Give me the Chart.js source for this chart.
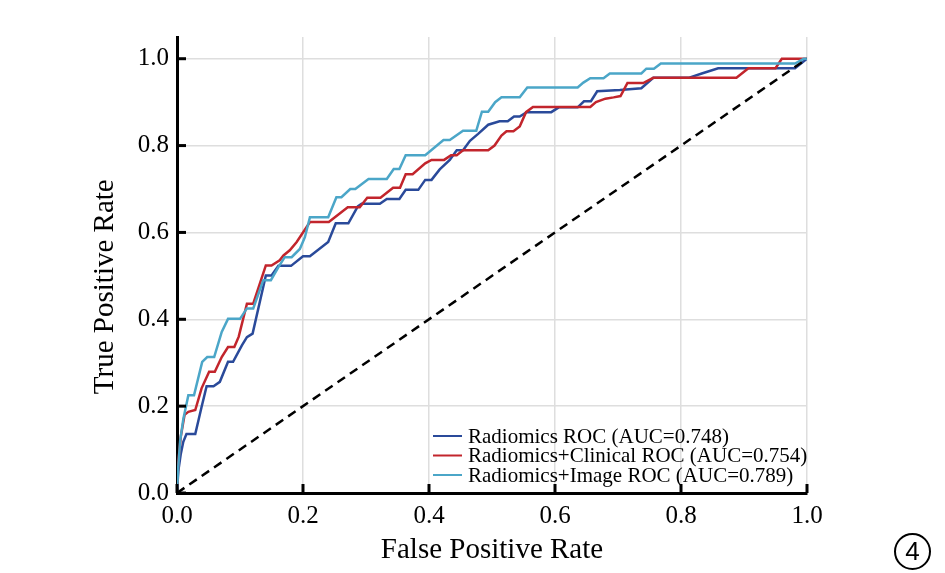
<!DOCTYPE html>
<html lang="en">
<head>
<meta charset="UTF-8">
<title>ROC curves</title>
<script src="https://cdn.jsdelivr.net/npm/chart.js@4.4.0/dist/chart.umd.min.js"></script>
<style>
    html, body { margin: 0; padding: 0; background: #fff; }
    #wrap { position: relative; width: 945px; height: 573px; }
    #badge {
        position: absolute; left: 894px; top: 533px;
        width: 33px; height: 33px; border: 2px solid #000; border-radius: 50%;
        font-family: 'Liberation Sans', Arial, sans-serif; font-size: 26px;
        line-height: 33px; text-align: center; color: #000;
    }
</style>
</head>
<body>
<div id="wrap">
    <canvas id="roc" width="945" height="573"></canvas>
    <div id="badge">4</div>
</div>
<script>
    // ticks
    const xTicks = [0, 0.2, 0.4, 0.6, 0.8, 1.0];
    const yTicks = [0, 0.2, 0.4, 0.6, 0.8, 1.0];
    const yTitle = 'True Positive Rate';

    // Radiomics ROC (AUC=0.748)
    const radFpr = [0, 0.002, 0.006, 0.010, 0.015, 0.029, 0.039, 0.047, 0.058, 0.068, 0.081, 0.089, 0.103, 0.111, 0.120,
        0.141, 0.150, 0.161, 0.181, 0.200, 0.211, 0.240, 0.252, 0.272, 0.287, 0.293, 0.322, 0.333, 0.353, 0.363, 0.383,
        0.394, 0.404, 0.417, 0.433, 0.444, 0.454, 0.465, 0.478, 0.494, 0.512, 0.525, 0.535, 0.544, 0.555, 0.594, 0.606,
        0.636, 0.646, 0.657, 0.667, 0.703, 0.737, 0.756, 0.812, 0.833, 0.859, 0.981, 1.0];
    const radTpr = [0, 0.05, 0.09, 0.118, 0.136, 0.136, 0.198, 0.246, 0.246, 0.256, 0.302, 0.302, 0.340, 0.359, 0.367,
        0.501, 0.501, 0.523, 0.523, 0.545, 0.545, 0.578, 0.621, 0.621, 0.660, 0.666, 0.666, 0.677, 0.677, 0.698, 0.698,
        0.721, 0.721, 0.745, 0.767, 0.789, 0.789, 0.811, 0.827, 0.848, 0.856, 0.856, 0.867, 0.867, 0.877, 0.877, 0.888,
        0.888, 0.902, 0.902, 0.925, 0.928, 0.932, 0.956, 0.956, 0.966, 0.978, 0.978, 1.0];

    // Radiomics+Clinical ROC (AUC=0.754)
    const clinFpr = [0, 0.002, 0.006, 0.012, 0.018, 0.029, 0.039, 0.051, 0.060, 0.071, 0.081, 0.091, 0.098, 0.111, 0.121,
        0.141, 0.150, 0.163, 0.169, 0.179, 0.190, 0.211, 0.241, 0.271, 0.290, 0.302, 0.323, 0.343, 0.354, 0.363, 0.374,
        0.394, 0.404, 0.424, 0.435, 0.444, 0.454, 0.494, 0.504, 0.515, 0.523, 0.534, 0.544, 0.554, 0.565, 0.656, 0.665,
        0.680, 0.693, 0.704, 0.715, 0.740, 0.756, 0.888, 0.907, 0.950, 0.960, 1.0];
    const clinTpr = [0, 0.07, 0.13, 0.180, 0.187, 0.191, 0.241, 0.279, 0.279, 0.313, 0.336, 0.336, 0.360, 0.436, 0.436,
        0.524, 0.524, 0.536, 0.547, 0.559, 0.578, 0.624, 0.624, 0.658, 0.658, 0.680, 0.680, 0.703, 0.703, 0.734, 0.734,
        0.759, 0.767, 0.767, 0.778, 0.778, 0.789, 0.789, 0.800, 0.823, 0.833, 0.833, 0.844, 0.877, 0.889, 0.889, 0.900,
        0.908, 0.911, 0.914, 0.944, 0.944, 0.956, 0.956, 0.978, 0.978, 1.0, 1.0];

    // Radiomics+Image ROC (AUC=0.789)
    const imgFpr = [0, 0.002, 0.005, 0.010, 0.018, 0.027, 0.040, 0.048, 0.059, 0.071, 0.081, 0.100, 0.111, 0.121, 0.137,
        0.149, 0.161, 0.171, 0.182, 0.195, 0.203, 0.211, 0.240, 0.253, 0.261, 0.275, 0.283, 0.304, 0.333, 0.344, 0.353,
        0.363, 0.394, 0.423, 0.433, 0.454, 0.475, 0.484, 0.494, 0.505, 0.515, 0.544, 0.556, 0.636, 0.645, 0.656, 0.677,
        0.687, 0.737, 0.745, 0.757, 0.768, 0.981, 0.995, 1.0];
    const imgTpr = [0, 0.06, 0.12, 0.170, 0.225, 0.225, 0.302, 0.313, 0.313, 0.371, 0.401, 0.401, 0.425, 0.425, 0.490,
        0.490, 0.520, 0.543, 0.543, 0.562, 0.589, 0.635, 0.635, 0.681, 0.681, 0.700, 0.700, 0.723, 0.723, 0.746, 0.746,
        0.778, 0.778, 0.813, 0.813, 0.834, 0.834, 0.878, 0.878, 0.900, 0.911, 0.911, 0.934, 0.934, 0.945, 0.955, 0.955,
        0.966, 0.966, 0.977, 0.977, 0.989, 0.989, 1.0, 1.0];

    // chance line
    const chanceFpr = [0, 1];
    const chanceTpr = [0, 1];

    const toPts = (xs, ys) => xs.map((x, i) => ({ x: x, y: ys[i] }));
    const serif = "'Liberation Serif', 'Times New Roman', serif";

    // legend inside the plot, lower right
    const innerLegend = {
        id: 'innerLegend',
        afterDatasetsDraw(chart) {
            const ctx = chart.ctx;
            const a = chart.chartArea;
            const items = chart.data.datasets.filter(d => d.label);
            const x0 = a.left + 256;
            let y = a.bottom - 57;
            ctx.save();
            ctx.font = '21px ' + serif;
            ctx.textBaseline = 'middle';
            ctx.fillStyle = '#000';
            items.forEach(d => {
                ctx.strokeStyle = d.borderColor;
                ctx.lineWidth = 2;
                ctx.beginPath();
                ctx.moveTo(x0, y);
                ctx.lineTo(x0 + 29, y);
                ctx.stroke();
                ctx.fillText(d.label, x0 + 35, y + 1);
                y += 19.5;
            });
            ctx.restore();
        }
    };

    // inward tick marks + y axis title (sits a bit below the axis middle)
    const innerTicks = {
        id: 'innerTicks',
        afterDraw(chart) {
            const ctx = chart.ctx;
            const xs = chart.scales.x, ys = chart.scales.y;
            ctx.save();
            ctx.strokeStyle = '#000';
            ctx.lineWidth = 3;
            xTicks.forEach(v => {
                const p = xs.getPixelForValue(v);
                ctx.beginPath();
                ctx.moveTo(p, ys.bottom);
                ctx.lineTo(p, ys.bottom - 9);
                ctx.stroke();
            });
            yTicks.forEach(v => {
                const p = ys.getPixelForValue(v);
                ctx.beginPath();
                ctx.moveTo(xs.left, p);
                ctx.lineTo(xs.left + 9, p);
                ctx.stroke();
            });
            ctx.translate(ys.left + 17, ys.getPixelForValue(0.475));
            ctx.rotate(-Math.PI / 2);
            ctx.font = '29px ' + serif;
            ctx.fillStyle = '#000';
            ctx.textAlign = 'center';
            ctx.textBaseline = 'middle';
            ctx.fillText(yTitle, 0, 0);
            ctx.restore();
        }
    };

    new Chart(document.getElementById('roc'), {
        type: 'scatter',
        data: {
            datasets: [
                { label: 'Radiomics ROC (AUC=0.748)', data: toPts(radFpr, radTpr), borderColor: '#2a4a9a', order: 3 },
                { label: 'Radiomics+Clinical ROC (AUC=0.754)', data: toPts(clinFpr, clinTpr), borderColor: '#c2252c', order: 2 },
                { label: 'Radiomics+Image ROC (AUC=0.789)', data: toPts(imgFpr, imgTpr), borderColor: '#4ba6c8', order: 1 },
                { label: '', data: toPts(chanceFpr, chanceTpr), borderColor: '#000', borderDash: [9, 6], borderWidth: 2.5, order: 0 }
            ]
        },
        options: {
            responsive: false,
            animation: false,
            showLine: true,
            datasets: { scatter: { showLine: true, pointRadius: 0, borderWidth: 2.5, tension: 0, fill: false } },
            layout: { padding: { top: 37, right: 138, left: 88, bottom: 0 } },
            plugins: { legend: { display: false }, tooltip: { enabled: false } },
            scales: {
                x: {
                    type: 'linear', min: 0, max: 1.0,
                    afterFit: s => { s.height = 80; },
                    afterBuildTicks: s => { s.ticks = xTicks.map(v => ({ value: v })); },
                    border: { color: '#000', width: 3 },
                    grid: { color: '#dedede', lineWidth: 1.5, drawTicks: false },
                    ticks: { color: '#000', padding: 8, font: { family: serif, size: 25 }, callback: v => v.toFixed(1) },
                    title: { display: true, text: 'False Positive Rate', color: '#000', font: { family: serif, size: 29 }, padding: { top: 0, bottom: 5 } }
                },
                y: {
                    type: 'linear', min: 0, max: 1.05,
                    afterFit: s => { s.width = 89; },
                    afterBuildTicks: s => { s.ticks = yTicks.map(v => ({ value: v })); },
                    border: { color: '#000', width: 3 },
                    grid: { color: '#dedede', lineWidth: 1.5, drawTicks: false },
                    ticks: { color: '#000', padding: 8, font: { family: serif, size: 25 }, callback: v => v.toFixed(1) }
                }
            }
        },
        plugins: [innerLegend, innerTicks]
    });
</script>
</body>
</html>
